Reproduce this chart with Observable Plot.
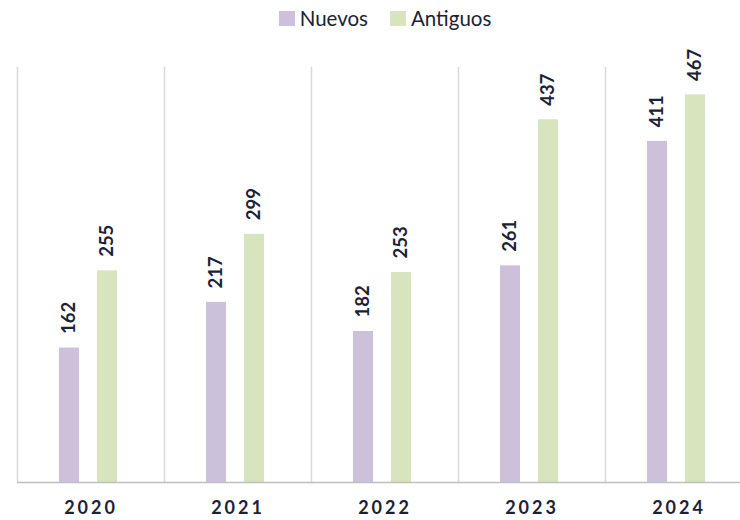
<!DOCTYPE html>
<html>
<head>
<meta charset="utf-8">
<script src="https://cdn.jsdelivr.net/npm/d3@7"></script>
<script src="https://cdn.jsdelivr.net/npm/@observablehq/plot@0.6"></script>
<style>
  body { margin: 0; background: #fff; font-family: Lato, "Open Sans", sans-serif; }
  #legend { height: 36px; display: flex; justify-content: center; align-items: center; gap: 22px; font-size: 20.5px; color: #1c2236; padding-left: 30px; box-sizing: border-box; }
  #legend .item { display: flex; align-items: center; gap: 5px; }
  #legend .sw { width: 16px; height: 15px; display: inline-block; }
  g[aria-label="fx-axis tick label"] text { letter-spacing: 3px; }
</style>
</head>
<body>
<div id="legend"></div>
<div id="chart"></div>
<script>
const years = ["2020", "2021", "2022", "2023", "2024"];
const series = ["Nuevos", "Antiguos"];
const nuevos = [162, 217, 182, 261, 411];
const antiguos = [255, 299, 253, 437, 467];
const colors = ["#ccc0da", "#d7e4bd"];

const data = years.flatMap((y, i) => [
  {year: y, serie: series[0], value: nuevos[i]},
  {year: y, serie: series[1], value: antiguos[i]}
]);

const legend = document.getElementById("legend");
series.forEach((s, i) => {
  const item = document.createElement("span");
  item.className = "item";
  const sw = document.createElement("span");
  sw.className = "sw";
  sw.style.background = colors[i];
  const t = document.createElement("span");
  t.textContent = s;
  item.append(sw, t);
  legend.append(item);
});

const chart = Plot.plot({
  width: 740,
  height: 484,
  marginTop: 31,
  marginBottom: 38,
  marginLeft: 16,
  marginRight: -12,
  style: {fontFamily: "Lato, 'Open Sans', sans-serif", background: "#fff"},
  fx: {domain: years, padding: 0, label: null},
  x: {domain: series, axis: null, paddingInner: 0.47, paddingOuter: 1.15, align: 0.47},
  y: {domain: [0, 500], axis: null},
  color: {domain: series, range: colors},
  marks: [
    Plot.frame({anchor: "left", stroke: "#d9d9d9", strokeWidth: 1.5}),
    Plot.barY(data, {fx: "year", x: "serie", y: "value", fill: "serie"}),
    Plot.ruleY([0], {stroke: "#bfbfbf", strokeWidth: 1.5}),
    Plot.text(data, {fx: "year", x: "serie", y: "value", text: d => String(d.value), rotate: -90, textAnchor: "start", dy: -14, fontWeight: "bold", fontSize: 18.5, fill: "#1c2236"}),
    Plot.axisFx({anchor: "bottom", tickSize: 0, tickPadding: 19, fontSize: 18, fontWeight: "bold", fill: "#1c2236", label: null})
  ]
});
document.getElementById("chart").append(chart);
</script>
</body>
</html>
